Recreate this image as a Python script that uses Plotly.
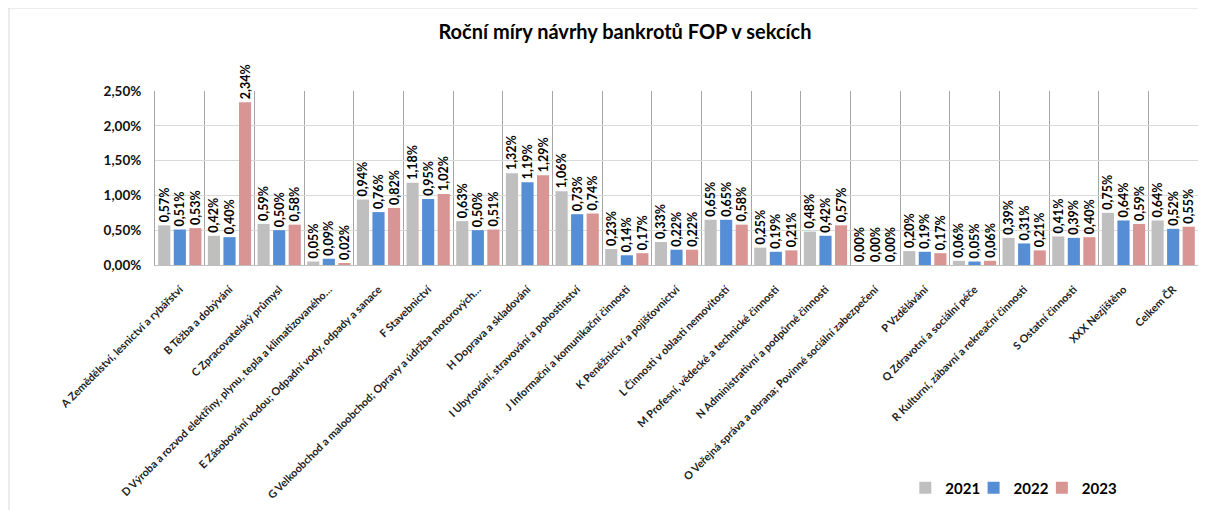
import plotly.graph_objects as go

categories = [
    "A Zemědělství, lesnictví a rybářství",
    "B Těžba a dobývání",
    "C Zpracovatelský průmysl",
    "D Výroba a rozvod elektřiny, plynu, tepla a klimatizovaného…",
    "E Zásobování vodou; Odpadní vody, odpady a sanace",
    "F Stavebnictví",
    "G Velkoobchod a maloobchod; Opravy a údržba motorových…",
    "H Doprava a skladování",
    "I Ubytování, stravování a pohostinství",
    "J Informační a komunikační činnosti",
    "K Peněžnictví a pojišťovnictví",
    "L Činnosti v oblasti nemovitostí",
    "M Profesní, vědecké a technické činnosti",
    "N Administrativní a podpůrné činnosti",
    "O Veřejná správa a obrana; Povinné sociální zabezpečení",
    "P Vzdělávání",
    "Q Zdravotní a sociální péče",
    "R Kulturní, zábavní a rekreační činnosti",
    "S Ostatní činnosti",
    "XXX Nezjištěno",
    "Celkem ČR",
]

y2021 = [0.57, 0.42, 0.59, 0.05, 0.94, 1.18, 0.63, 1.32, 1.06, 0.23, 0.33,
         0.65, 0.25, 0.48, 0.00, 0.20, 0.06, 0.39, 0.41, 0.75, 0.64]
y2022 = [0.51, 0.40, 0.50, 0.09, 0.76, 0.95, 0.50, 1.19, 0.73, 0.14, 0.22,
         0.65, 0.19, 0.42, 0.00, 0.19, 0.05, 0.31, 0.39, 0.64, 0.52]
y2023 = [0.53, 2.34, 0.58, 0.02, 0.82, 1.02, 0.51, 1.29, 0.74, 0.17, 0.22,
         0.58, 0.21, 0.57, 0.00, 0.17, 0.06, 0.21, 0.40, 0.59, 0.55]

series = [("2021", y2021, "#BFBFBF"), ("2022", y2022, "#558ED5"), ("2023", y2023, "#D99594")]
legend_ids = ["legend", "legend2", "legend3"]
legend_x = [0.749, 0.806, 0.863]

FONT = "Lato"

fig = go.Figure()
for (name, vals, color), lid in zip(series, legend_ids):
    fig.add_trace(go.Bar(
        x=categories,
        y=[v / 100 for v in vals],
        name=name,
        legend=lid,
        showlegend=True,
        marker=dict(color=color, line=dict(width=0)),
        texttemplate="%{y:.2%}",
        textposition="outside",
        textangle=-90,
        constraintext="none",
        cliponaxis=False,
        textfont=dict(family=FONT, size=12.5, color="#000000", weight="bold"),
    ))

legend_style = dict(
    orientation="h",
    xref="container", yref="container",
    y=0.044, xanchor="left", yanchor="middle",
    font=dict(family=FONT, size=15, color="#000000", weight="bold"),
    bgcolor="rgba(0,0,0,0)",
    visible=True,
)

layout_legends = {lid: dict(legend_style, x=lx) for lid, lx in zip(legend_ids, legend_x)}

fig.update_layout(
    width=1198, height=502,
    margin=dict(l=147, r=8, t=83, b=245),
    paper_bgcolor="white", plot_bgcolor="white",
    separators=",.",
    showlegend=True,
    barmode="group",
    bargap=0.06,
    bargroupgap=0.22,
    title=dict(
        text="Roční míry návrhy bankrotů FOP v sekcích",
        x=0.515, xanchor="center", yref="container", y=0.953, yanchor="middle",
        font=dict(family=FONT, size=20, color="#000000", weight="bold"),
    ),
    font=dict(family=FONT, color="#000000"),
    xaxis=dict(
        type="category",
        automargin=False,
        tickangle=-45,
        tickson="boundaries",
        ticks="",
        ticklabelstandoff=13,
        showgrid=True,
        gridcolor="#A6A6A6",
        gridwidth=1,
        showline=True,
        linecolor="#BFBFBF",
        linewidth=1,
        tickfont=dict(family=FONT, size=10.8, color="#222222", weight="bold"),
    ),
    yaxis=dict(
        range=[0, 0.025],
        automargin=False,
        tickformat=".2%",
        dtick=0.005,
        showgrid=True,
        gridcolor="#D9D9D9",
        gridwidth=1,
        zeroline=False,
        showline=True,
        linecolor="#A6A6A6",
        ticks="",
        ticklabelstandoff=10,
        tickfont=dict(family=FONT, size=13.5, color="#111111", weight="bold"),
    ),
    shapes=[
        dict(type="line", xref="paper", yref="paper",
             x0=-147 / 1043, x1=(1198 - 147) / 1043,
             y0=257 / 174, y1=257 / 174,
             line=dict(color="#D9D9D9", width=1)),
        dict(type="line", xref="paper", yref="paper",
             x0=-146 / 1043, x1=-146 / 1043,
             y0=257 / 174, y1=-245 / 174,
             line=dict(color="#D9D9D9", width=1)),
    ],
    **layout_legends,
)

fig.write_html("out.html")
